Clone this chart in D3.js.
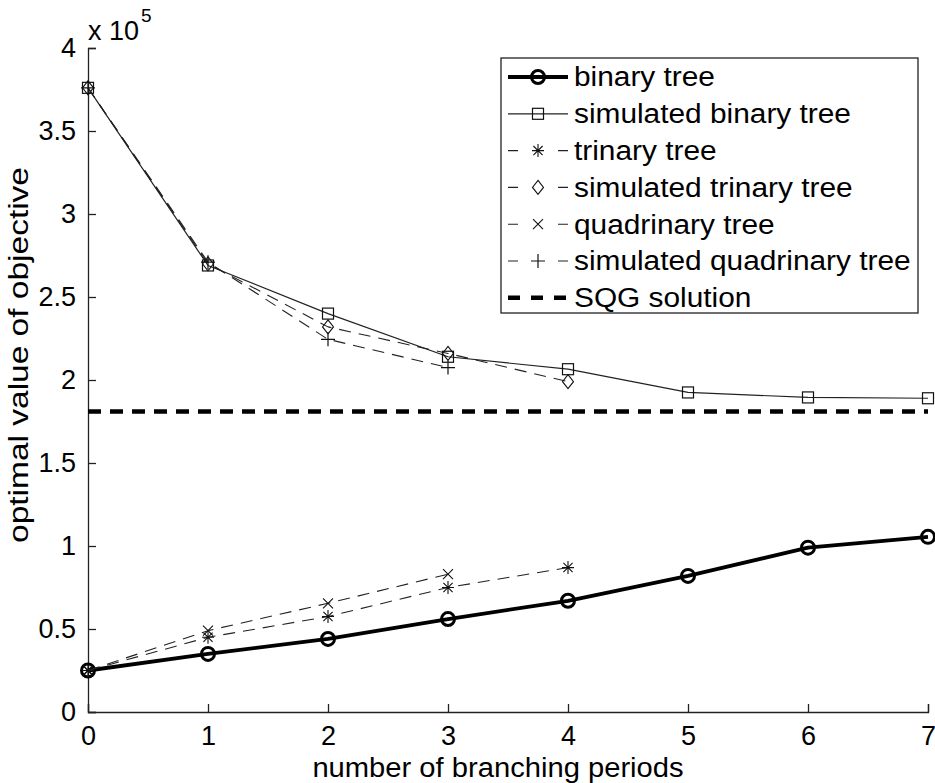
<!DOCTYPE html>
<html>
<head>
<meta charset="utf-8">
<script src="https://cdn.jsdelivr.net/npm/d3@7"></script>
<style>
  html, body { margin: 0; padding: 0; background: #fff; }
  svg { display: block; font-family: "Liberation Sans", Arial, sans-serif; }
</style>
</head>
<body>
<svg id="chart" width="935" height="783"></svg>
<script>
// Branching periods on the x axis
const periods = [0, 1, 2, 3, 4, 5, 6, 7];

// Optimal objective values for each tree model
const binaryTree        = [25000, 35000, 44000, 56000, 67000, 82000, 99000, 105500];
const simBinaryTree     = [376000, 269000, 240000, 214000, 206500, 192500, 189500, 189000];
const trinaryTree       = [25000, 45000, 57500, 75000, 87000];
const simTrinaryTree    = [376000, 270000, 232000, 216000, 199000];
const quadrinaryTree    = [25000, 49000, 65500, 83000];
const simQuadrinaryTree = [376000, 271000, 224500, 207500];
const sqgSolution       = 181000;

// Tick values
const xTicks = [0, 1, 2, 3, 4, 5, 6, 7];
const yTicks = [0, 50000, 100000, 150000, 200000, 250000, 300000, 350000, 400000];

const legendLabels = [
  "binary tree",
  "simulated binary tree",
  "trinary tree",
  "simulated trinary tree",
  "quadrinary tree",
  "simulated quadrinary tree",
  "SQG solution"
];

const svg = d3.select("#chart");
const plotLeft = 88, plotRight = 928, plotTop = 48, plotBottom = 712;

const x = d3.scaleLinear().domain([0, 7]).range([plotLeft, plotRight]);
const y = d3.scaleLinear().domain([0, 400000]).range([plotBottom, plotTop]);

const FONT = 27;

// Widen a text element horizontally along its baseline by a factor
function widen(sel, factor) {
  sel.each(function () {
    const w = this.getComputedTextLength();
    d3.select(this).attr("textLength", w * factor).attr("lengthAdjust", "spacingAndGlyphs");
  });
}

// Axes (ticks pointing inward, MATLAB-like)
const xAxis = d3.axisBottom(x).tickValues(xTicks).tickSize(-8).tickPadding(14)
  .tickFormat(d3.format("d"));
const yAxis = d3.axisLeft(y).tickValues(yTicks).tickSize(-8).tickPadding(12)
  .tickFormat(d => String(d / 1e5));

const gx = svg.append("g").attr("transform", `translate(0,${plotBottom})`).call(xAxis);
const gy = svg.append("g").attr("transform", `translate(${plotLeft},0)`).call(yAxis);
[gx, gy].forEach(g => {
  g.select(".domain").attr("stroke", "#222").attr("stroke-width", 1.3);
  g.selectAll(".tick line").attr("stroke", "#222").attr("stroke-width", 1.3);
  g.selectAll(".tick text").attr("fill", "#000").style("font-size", FONT + "px")
    .style("font-family", "Liberation Sans, Arial, sans-serif");
});
gx.selectAll(".tick text").attr("dy", "0.71em");

// Exponent label
const expo = svg.append("text").attr("x", plotLeft).attr("y", 40)
  .style("font-size", FONT + "px").attr("fill", "#000");
expo.append("tspan").text("x 10");
expo.append("tspan").attr("dy", -18).attr("dx", 2).style("font-size", "19px").text("5");

// Axis titles
const xTitle = svg.append("text").attr("x", 498).attr("y", 777)
  .attr("text-anchor", "middle").style("font-size", FONT + "px").attr("fill", "#000")
  .text("number of branching periods");
widen(xTitle, 1.08);
const yTitle = svg.append("text")
  .attr("transform", `translate(28,355) rotate(-90)`)
  .attr("text-anchor", "middle").style("font-size", FONT + "px").attr("fill", "#000")
  .text("optimal value of objective");
widen(yTitle, 1.24);

const line = d3.line().x((d, i) => x(periods[i])).y(d => y(d));

// Marker drawers
function marker(g, type, cx, cy) {
  const s = g.append("g").attr("transform", `translate(${cx},${cy})`)
    .attr("fill", "none").attr("stroke", "#111");
  if (type === "circle") {
    s.append("circle").attr("r", 6.5).attr("stroke", "#000").attr("stroke-width", 3);
  } else if (type === "square") {
    s.append("rect").attr("x", -5.5).attr("y", -5.5).attr("width", 11).attr("height", 11)
      .attr("stroke-width", 1.2);
  } else if (type === "diamond") {
    s.append("path").attr("d", "M0,-7L5.5,0L0,7L-5.5,0Z").attr("stroke-width", 1.1);
  } else if (type === "plus") {
    s.append("path").attr("d", "M-7,0H7M0,-7V7").attr("stroke-width", 1.2);
  } else if (type === "x") {
    s.append("path").attr("d", "M-5,-5L5,5M-5,5L5,-5").attr("stroke-width", 1.1);
  } else if (type === "star") {
    s.append("path").attr("d", "M-6,0H6M0,-6.5V6.5M-4.6,-4.6L4.6,4.6M-4.6,4.6L4.6,-4.6")
      .attr("stroke-width", 1.1);
  }
}

const series = [
  { data: binaryTree,        marker: "circle",  width: 3.8, dash: null,   color: "#000" },
  { data: simBinaryTree,     marker: "square",  width: 1.2, dash: null,   color: "#222" },
  { data: trinaryTree,       marker: "star",    width: 1.1, dash: "12,8", color: "#222" },
  { data: simTrinaryTree,    marker: "diamond", width: 1.1, dash: "12,8", color: "#222" },
  { data: quadrinaryTree,    marker: "x",       width: 1.1, dash: "12,8", color: "#222" },
  { data: simQuadrinaryTree, marker: "plus",    width: 1.1, dash: "12,8", color: "#222" }
];

const plot = svg.append("g");
series.forEach(s => {
  plot.append("path").datum(s.data).attr("d", line)
    .attr("fill", "none").attr("stroke", s.color).attr("stroke-width", s.width)
    .attr("stroke-dasharray", s.dash).attr("stroke-linejoin", "round");
  s.data.forEach((v, i) => marker(plot, s.marker, x(periods[i]), y(v)));
});

// SQG solution reference line
plot.append("line").attr("x1", x(0)).attr("x2", x(7))
  .attr("y1", y(sqgSolution)).attr("y2", y(sqgSolution))
  .attr("stroke", "#000").attr("stroke-width", 4.5).attr("stroke-dasharray", "13,9");

// Legend
const lg = svg.append("g");
lg.append("rect").attr("x", 501).attr("y", 58).attr("width", 417).attr("height", 255)
  .attr("fill", "#fff").attr("stroke", "#222").attr("stroke-width", 1.3);
const rowY = i => 77 + i * 36.8;
const sx0 = 508, sx1 = 568, sxm = 538;
legendLabels.forEach((label, i) => {
  const ry = rowY(i);
  if (i < series.length) {
    const s = series[i];
    lg.append("line").attr("x1", sx0).attr("x2", sx1).attr("y1", ry).attr("y2", ry)
      .attr("stroke", s.color).attr("stroke-width", s.width)
      .attr("stroke-dasharray", s.dash ? "10,40" : null);
    marker(lg, s.marker, sxm, ry);
  } else {
    lg.append("line").attr("x1", sx0).attr("x2", sx1).attr("y1", ry).attr("y2", ry)
      .attr("stroke", "#000").attr("stroke-width", 4.5).attr("stroke-dasharray", "12,11");
  }
  const t = lg.append("text").attr("x", 574).attr("y", ry).attr("dy", "0.35em")
    .style("font-size", FONT + "px").attr("fill", "#000").text(label);
  widen(t, 1.105);
});
</script>
</body>
</html>
